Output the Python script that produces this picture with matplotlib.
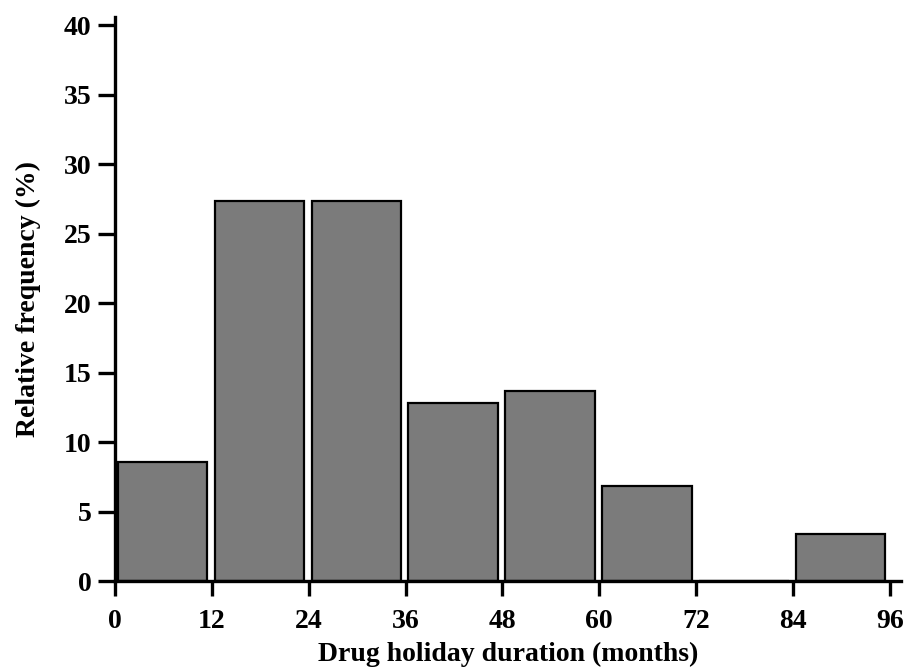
import matplotlib as mpl
import matplotlib.pyplot as plt

# relative frequency (%) of drug holiday duration, 12-month bins
bin_starts = [0, 12, 24, 36, 48, 60, 72, 84]
rel_freq = [8.55, 27.35, 27.35, 12.82, 13.68, 6.84, 0.0, 3.42]
x_ticks = [0, 12, 24, 36, 48, 60, 72, 84, 96]
y_ticks = [0, 5, 10, 15, 20, 25, 30, 35, 40]

mpl.rcParams.update({
    'font.family': 'Liberation Serif',
    'font.weight': 'bold',
    'font.size': 20,
})

fig = plt.figure(figsize=(9.13, 6.71), dpi=100)
ax = fig.add_axes([0.126, 0.134, 0.861, 0.841])

ax.bar([b + 0.35 for b in bin_starts], rel_freq, width=11.1, align='edge',
       color='#7b7b7b', edgecolor='black', linewidth=1.6, zorder=2)

ax.set_xlim(0, 97.4)
ax.set_ylim(0, 40.6)
ax.set_xticks(x_ticks)
ax.set_yticks(y_ticks)

for side in ['top', 'right']:
    ax.spines[side].set_visible(False)
for side in ['left', 'bottom']:
    ax.spines[side].set_linewidth(2.4)

ax.tick_params(axis='x', direction='out', length=11, width=2.4, pad=9, labelsize=20)
ax.tick_params(axis='y', direction='out', length=12, width=2.4, pad=5, labelsize=20)

ax.set_xlabel('Drug holiday duration (months)', fontsize=20, fontweight='bold', labelpad=6)
ax.set_ylabel('Relative frequency (%)', fontsize=20, fontweight='bold', labelpad=16)

fig.savefig('out.png', dpi=100)
